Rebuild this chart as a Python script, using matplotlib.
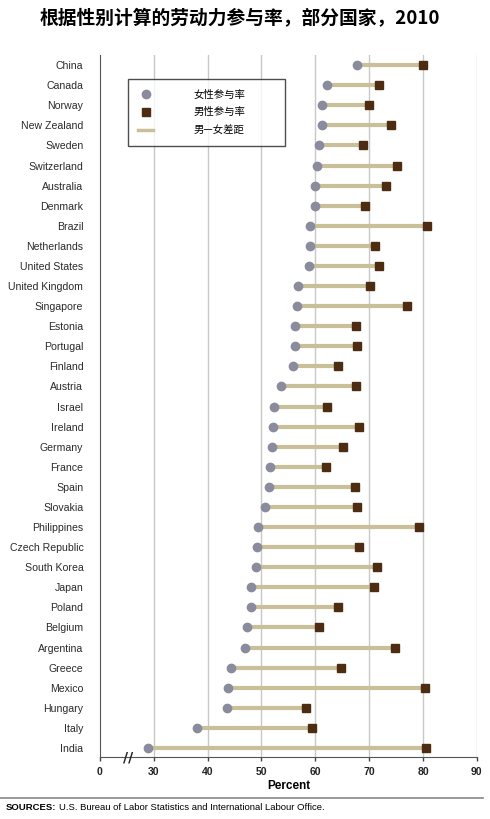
import matplotlib
matplotlib.use("Agg")
import matplotlib.pyplot as plt
from matplotlib.lines import Line2D
from matplotlib.text import Annotation

# DATA
countries = ["China", "Canada", "Norway", "New Zealand", "Sweden", "Switzerland",
             "Australia", "Denmark", "Brazil", "Netherlands", "United States",
             "United Kingdom", "Singapore", "Estonia", "Portugal", "Finland",
             "Austria", "Israel", "Ireland", "Germany", "France", "Spain",
             "Slovakia", "Philippines", "Czech Republic", "South Korea", "Japan",
             "Poland", "Belgium", "Argentina", "Greece", "Mexico", "Hungary",
             "Italy", "India"]
women = [67.7, 62.2, 61.2, 61.2, 60.6, 60.4, 59.9, 59.9, 59.1, 59.1, 58.9,
         56.7, 56.6, 56.3, 56.3, 55.9, 53.7, 52.4, 52.2, 51.9, 51.5, 51.4,
         50.7, 49.3, 49.2, 49.0, 48.0, 48.0, 47.4, 46.9, 44.3, 43.7, 43.6,
         38.1, 28.9]
men = [80.0, 71.8, 70.0, 74.1, 68.9, 75.2, 73.1, 69.2, 80.7, 71.1, 71.8,
       70.2, 77.0, 67.6, 67.8, 64.3, 67.6, 62.2, 68.2, 65.2, 62.0, 67.3,
       67.8, 79.3, 68.1, 71.5, 71.0, 64.2, 60.7, 74.8, 64.8, 80.3, 58.3,
       59.3, 80.5]
xticks = [20, 30, 40, 50, 60, 70, 80, 90]
xtick_labels = ["0", "30", "40", "50", "60", "70", "80", "90"]

# STYLE
narrow = ["Liberation Sans", "DejaVu Sans"]
cjk = ["Noto Sans CJK SC", "DejaVu Sans"]
c_women = "#8a8c9e"
c_men = "#4e2c12"
c_gap = "#c9c09a"

fig = plt.figure(figsize=(4.9, 8.19), dpi=100)
ax = fig.add_axes([0.204, 0.0757, 0.769, 0.857])

y = list(range(len(countries)))

# GRID
for t in xticks[1:]:
    ax.axvline(t, color="#c8c8c8", linewidth=1, zorder=0)

# DUMBBELLS
ax.hlines(y, women, men, color=c_gap, linewidth=3, zorder=2)
ax.plot(women, y, "o", color=c_women, markersize=6, zorder=3)
ax.plot(men, y, "s", color=c_men, markersize=6.3, zorder=3)

ax.set_xlim(20, 90)
ax.set_ylim(len(countries) - 0.55, -0.5)
ax.set_yticks(y)
ax.set_yticklabels(countries, family=narrow, fontsize=7.6, color="#2a2a2a")
ax.set_xticks(xticks)
ax.set_xticklabels(xtick_labels, family=narrow, fontsize=7.5, fontweight="bold", color="#222222")
ax.tick_params(axis="y", length=0, pad=12)
ax.tick_params(axis="x", length=3, width=1, color="#444444", pad=4)

for s in ["top", "right"]:
    ax.spines[s].set_visible(False)
ax.spines["left"].set_color("#555555")
ax.spines["bottom"].set_color("#555555")

ax.set_xlabel("Percent", family=narrow, fontsize=8.5, fontweight="bold", labelpad=2)

# AXIS BREAK
ax.text(25.2, len(countries) - 0.55, "//", family="DejaVu Sans", fontsize=10,
        fontweight="bold", ha="center", va="center", color="#222222", clip_on=False)

# LEGEND
handles = [Line2D([], [], marker="o", linestyle="none", color=c_women, markersize=6),
           Line2D([], [], marker="s", linestyle="none", color=c_men, markersize=6),
           Line2D([], [], color=c_gap, linewidth=2.5)]
leg = ax.legend(handles, ["女性参与率", "男性参与率", "男—女差距"],
                loc="upper left", bbox_to_anchor=(0.0743, 0.8706, 0.4164, 0.0954),
                mode="expand", prop={"family": cjk, "size": 7.5}, frameon=True,
                fancybox=False, edgecolor="#222222", handlelength=1.45,
                handletextpad=3.8, borderpad=1.0, labelspacing=0.75, borderaxespad=0)
leg.get_frame().set_linewidth(1)

# TITLE
fig.text(0.49, 0.978, "根据性别计算的劳动力参与率，部分国家，2010", family=cjk,
         fontsize=13.5, fontweight="heavy", ha="center", va="center")

# SOURCE LINE
fig.add_artist(Line2D([0.0, 0.985], [0.026, 0.026], color="#888888", linewidth=1.2))
src = fig.text(0.012, 0.014, "SOURCES:", family=narrow, fontsize=6.8,
               fontweight="bold", va="center")
fig.add_artist(Annotation("U.S. Bureau of Labor Statistics and International Labour Office.",
                          xy=(1, 0.5), xycoords=src, xytext=(2, 0),
                          textcoords="offset points", va="center",
                          family=narrow, fontsize=6.8))

plt.savefig("out.png", dpi=100)
